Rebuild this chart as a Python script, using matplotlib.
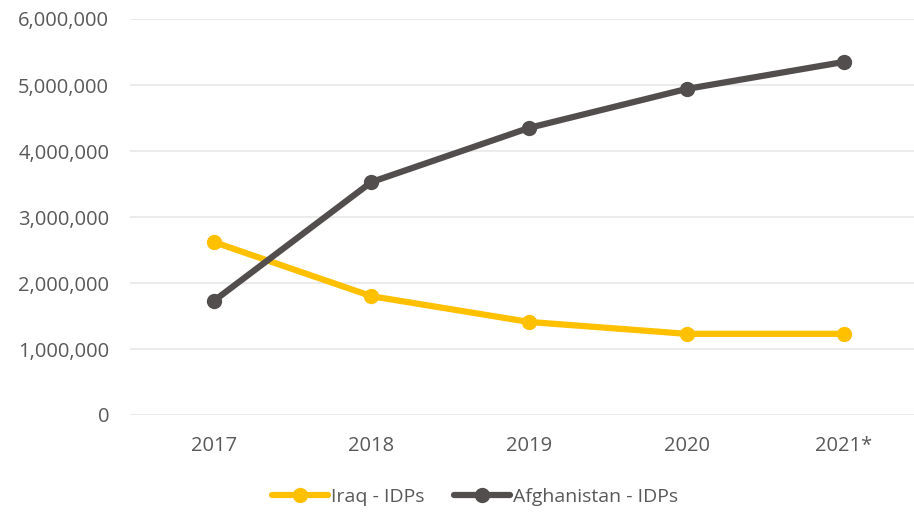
import matplotlib.pyplot as plt
from matplotlib.ticker import FuncFormatter

years = ['2017', '2018', '2019', '2020', '2021*']
iraq = [2620000, 1800000, 1410000, 1230000, 1230000]
afghanistan = [1730000, 3530000, 4350000, 4940000, 5350000]

plt.rcParams['font.family'] = ['Open Sans', 'DejaVu Sans']
txt = '#595959'

fig = plt.figure(figsize=(9.14, 5.13), dpi=100)
ax = fig.add_axes([130/914, 1-415/513, 784/914, 396/513])

x = range(len(years))
ax.plot(x, iraq, color='#FFC000', lw=4.5, marker='o', ms=10, label='Iraq - IDPs', solid_capstyle='round')
ax.plot(x, afghanistan, color='#524E4E', lw=4.5, marker='o', ms=10, label='Afghanistan - IDPs', solid_capstyle='round')

ax.set_xlim(-0.533, 4.444)
ax.set_ylim(0, 6000000)
ax.set_yticks(range(0, 6000001, 1000000))
ax.yaxis.set_major_formatter(FuncFormatter(lambda v, p: f'{int(v):,}'))
ax.set_xticks(list(x))
ax.set_xticklabels(years)
ax.grid(axis='y', color='#EBEBEB', lw=1.5)
ax.set_axisbelow(True)
for s in ax.spines.values():
    s.set_visible(False)
ax.tick_params(length=0, labelsize=14.5, colors=txt)
ax.tick_params(axis='y', pad=15)
ax.tick_params(axis='x', pad=15)

leg = fig.legend(loc='center', bbox_to_anchor=(0.52, 1-497/513), ncol=2, frameon=False,
                 fontsize=14, handlelength=2.9, columnspacing=1.5, handletextpad=0.15)
for t in leg.get_texts():
    t.set_color(txt)

fig.savefig('out.png', dpi=100)
